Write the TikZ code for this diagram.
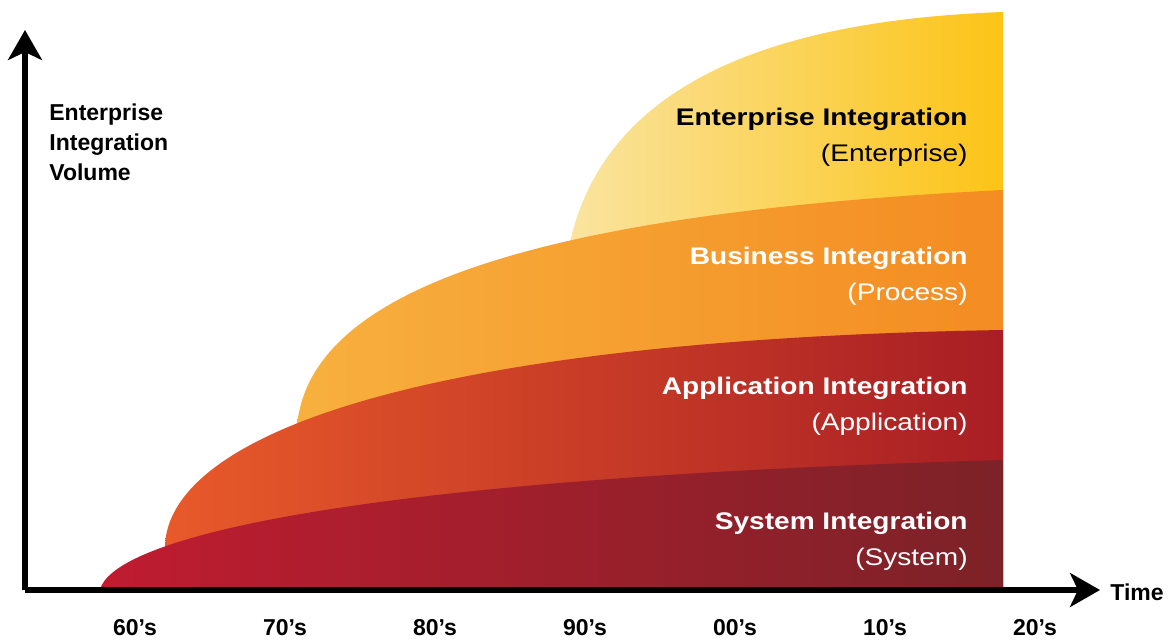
\documentclass[tikz,border=0pt]{standalone}
\usepackage{fontspec}
\setmainfont{Liberation Sans}
\newfontfamily\widefont{Liberation Sans}[FakeStretch=1.17]
\usetikzlibrary{arrows.meta}
\definecolor{entleft}{RGB}{250,228,160}
\definecolor{entright}{RGB}{252,196,22}
\definecolor{busleft}{RGB}{247,176,62}
\definecolor{busright}{RGB}{244,140,34}
\definecolor{appleft}{RGB}{232,90,42}
\definecolor{appright}{RGB}{168,30,36}
\definecolor{sysleft}{RGB}{192,28,48}
\definecolor{sysright}{RGB}{124,34,40}
\tikzset{x=0.5pt, y=-0.5pt, % One unit is one pixel of the reference, y going down
layer/.style 2 args={ % Sets the shading of each band
draw=none,
left color=#1,
right color=#2},
axis/.style={ % Sets the properties for both axes
line width=2.6pt,
-{Stealth[length=15pt,width=17pt,inset=4pt]}},
layertext/.style={ % Label inside a band
anchor=east,
align=right,
inner sep=0pt,
font=\widefont\fontsize{12}{18}\selectfont},
axislabel/.style={ % Texts along the axes
inner sep=0pt,
font=\fontsize{11.5}{15}\selectfont\bfseries}}

\begin{document}
\begin{tikzpicture}
\useasboundingbox (0,0) rectangle (1171,641);
% bands, back to front
\path[layer={entleft}{entright}] (568,252) .. controls (600,80) and (780,20) .. (1003,12) -- (1003,590) -- (568,590) -- cycle;
\path[layer={busleft}{busright}] (297,425) .. controls (310,300) and (500,215) .. (1003,190) -- (1003,590) -- (297,590) -- cycle;
\path[layer={appleft}{appright}] (165,545) .. controls (170,440) and (400,340) .. (1003,330) -- (1003,590) -- (165,590) -- cycle;
\path[layer={sysleft}{sysright}] (100,590) .. controls (110,545) and (300,480) .. (1003,460) -- (1003,590) -- cycle;
% band labels
\node[layertext, text=black] (ent) at (968,137) {\textbf{Enterprise Integration}\\(Enterprise)};
\node[layertext, text=white] (bus) at (968,276) {\textbf{Business Integration}\\(Process)};
\node[layertext, text=white] (app) at (968,406) {\textbf{Application Integration}\\(Application)};
\node[layertext, text=white] (sys) at (968,541) {\textbf{System Integration}\\(System)};
% axes
\coordinate (origin) at (25,590);
\coordinate (ytip) at (25,30);
\coordinate (xtip) at (1100,590);
\draw[axis] (origin) -- (ytip);
\draw[axis] (origin) -- (xtip);
\node[axislabel, anchor=west, align=left] (volume) at (49,142) {Enterprise\\Integration\\Volume};
\node[axislabel, anchor=west] (time) at (1110,592) {Time};
\foreach \yr [count=\i from 0] in {60,70,80,90,00,10,20}
\node[axislabel] (yr\i) at ({135+150*\i},628) {\yr’s};
\end{tikzpicture}
\end{document}
